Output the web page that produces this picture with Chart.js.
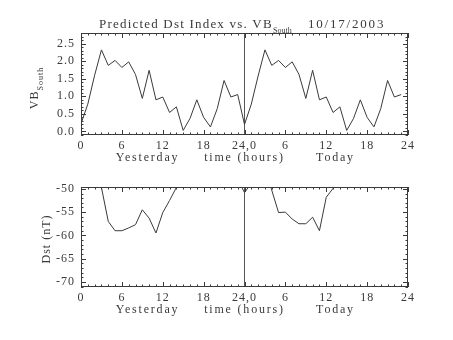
<!DOCTYPE html>
<html>
<head>
<meta charset="utf-8">
<script src="https://cdn.jsdelivr.net/npm/chart.js@4.4.1/dist/chart.umd.min.js"></script>
<style>
  html, body { margin: 0; padding: 0; background: #fff; }
  #wrap { position: relative; width: 453px; height: 340px; }
  #wrap canvas { position: absolute; left: 0; }
</style>
</head>
<body>
<div id="wrap">
  <canvas id="vb-chart" width="453" height="170" style="top:0"></canvas>
  <canvas id="dst-chart" width="453" height="170" style="top:170px"></canvas>
</div>
<script>
// hours 0..23 yesterday, then 24..47 today
var hours = [];
for (var i = 0; i < 48; i++) hours.push(i);

var vbYesterday = [0.22, 0.78, 1.6, 2.32, 1.88, 2.02, 1.82, 1.98, 1.62, 0.94, 1.74, 0.9,
                   0.98, 0.54, 0.7, 0.03, 0.37, 0.9, 0.4, 0.13, 0.65, 1.45, 0.98, 1.05];
var vbToday = [0.2, 0.78, 1.58, 2.32, 1.88, 2.02, 1.82, 1.98, 1.62, 0.94, 1.74, 0.9,
               0.98, 0.54, 0.7, 0.03, 0.37, 0.9, 0.4, 0.13, 0.65, 1.45, 0.98, 1.05];

var dstYesterday = [null, null, -45, -49.7, -57.0, -59.0, -59.0, -58.4, -57.7, -54.5, -56.3, -59.5,
                    -55.1, -52.5, -49.7, -45, null, null, null, null, null, null, null, -48];
var dstToday = [-50.8, -48.8, null, -45, -50.3, -55.1, -55.0, -56.5, -57.5, -57.5, -56.1, -59.0,
                -51.8, -49.9, -46, null, null, null, null, null, null, null, null, null];

var xTicks = [0, 6, 12, 18, 24, 30, 36, 42, 48];
var xTickLabels = ['0', '6', '12', '18', '24,0', '6', '12', '18', '24'];
var vbTicks = [0, 0.5, 1.0, 1.5, 2.0, 2.5];
var dstTicks = [-70, -65, -60, -55, -50];

var FONT = '"Liberation Serif", "DejaVu Serif", serif';
var INK = '#3a3a3a';

function points(a, b) {
  var all = a.concat(b);
  return hours.map(function (h, i) { return { x: h, y: all[i] }; });
}

// IDL style box: frame on all four sides with inward major/minor ticks, plus texts
var idlBox = {
  id: 'idlBox',
  beforeDraw: function (chart) {
    chart.ctx.letterSpacing = '1px';
  },
  afterDraw: function (chart) {
    var o = chart.options.plugins.idlBox;
    var a = chart.chartArea, ctx = chart.ctx;
    var xs = chart.scales.x, ys = chart.scales.y;
    ctx.save();
    ctx.letterSpacing = '0px';
    ctx.strokeStyle = '#3a3a3a';
    ctx.lineWidth = 1;
    ctx.strokeRect(Math.round(a.left) + 0.5, Math.round(a.top) + 0.5,
      Math.round(a.right - a.left) - 1, Math.round(a.bottom - a.top) - 1);

    ctx.beginPath();
    for (var h = 0; h <= 48; h++) {
      var len = h % 6 === 0 ? 5 : 2.5;
      var px = Math.round(xs.getPixelForValue(h)) + 0.5;
      ctx.moveTo(px, a.bottom); ctx.lineTo(px, a.bottom - len);
      ctx.moveTo(px, a.top); ctx.lineTo(px, a.top + len);
    }
    var n0 = Math.ceil(ys.min / o.yMinor - 1e-6), n1 = Math.floor(ys.max / o.yMinor + 1e-6);
    for (var n = n0; n <= n1; n++) {
      var v = n * o.yMinor;
      var major = Math.abs(v / o.yMajor - Math.round(v / o.yMajor)) < 1e-6;
      var l2 = major ? 5 : 2.5;
      var py = Math.round(ys.getPixelForValue(v)) + 0.5;
      ctx.moveTo(a.left, py); ctx.lineTo(a.left + l2, py);
      ctx.moveTo(a.right, py); ctx.lineTo(a.right - l2, py);
    }
    ctx.stroke();

    ctx.fillStyle = INK;
    ctx.textBaseline = 'middle';
    ctx.textAlign = 'center';
    ctx.font = '12px ' + FONT;
    ctx.letterSpacing = '1.8px';
    var cx = xs.getPixelForValue(24);
    var ty = a.bottom + 23;
    ctx.fillText('Yesterday', cx - 97, ty);
    ctx.fillText('time (hours)', cx, ty);
    ctx.fillText('Today', cx + 91, ty);
    ctx.letterSpacing = '0px';

    // rotated y title
    ctx.save();
    ctx.translate(o.yTitleX, (a.top + a.bottom) / 2 + o.yTitleDy);
    ctx.rotate(-Math.PI / 2);
    ctx.textAlign = 'left';
    ctx.textBaseline = 'alphabetic';
    ctx.letterSpacing = '1px';
    ctx.font = '12px ' + FONT;
    var w = ctx.measureText(o.yTitle).width;
    var sw = 0;
    if (o.ySub) {
      ctx.font = '8px ' + FONT;
      sw = ctx.measureText(o.ySub).width;
    }
    var start = -(w + sw) / 2;
    ctx.font = '12px ' + FONT;
    ctx.fillText(o.yTitle, start, 0);
    if (o.ySub) {
      ctx.font = '8px ' + FONT;
      ctx.fillText(o.ySub, start + w, 5);
    }
    ctx.restore();

    if (o.title) {
      ctx.textAlign = 'left';
      ctx.textBaseline = 'alphabetic';
      ctx.font = '13px ' + FONT;
      ctx.letterSpacing = '1.2px';
      ctx.fillText(o.title, 99, 28);
      ctx.letterSpacing = '0px';
      ctx.font = '8px ' + FONT;
      ctx.fillText(o.titleSub, 273, 33);
      ctx.font = '13px ' + FONT;
      ctx.letterSpacing = '1.8px';
      ctx.fillText(o.date, 308, 28);
      ctx.letterSpacing = '0px';
    }
    ctx.restore();
  }
};

function makeChart(id, data, yMin, yMax, yTicks, yFmt, boxOpts, padTop, axisH) {
  return new Chart(document.getElementById(id), {
    type: 'line',
    data: {
      datasets: [{
        data: data,
        borderColor: '#3a3a3a',
        borderWidth: 1,
        pointRadius: 0,
        tension: 0,
        spanGaps: false,
        clip: 0
      }]
    },
    options: {
      responsive: false,
      animation: false,
      devicePixelRatio: 1,
      layout: { padding: { top: padTop, right: 45, left: 0, bottom: 0 } },
      plugins: { legend: { display: false }, tooltip: { enabled: false }, idlBox: boxOpts },
      scales: {
        x: {
          type: 'linear', min: 0, max: 48,
          afterBuildTicks: function (s) { s.ticks = xTicks.map(function (v) { return { value: v }; }); },
          afterFit: function (s) { s.height = axisH; },
          ticks: {
            autoSkip: false, maxRotation: 0, padding: 4, color: INK,
            font: { family: FONT, size: 12 },
            callback: function (v) { return xTickLabels[xTicks.indexOf(v)]; }
          },
          grid: {
            drawTicks: false,
            color: function (c) { return c.tick && c.tick.value === 24 ? '#555' : 'rgba(0,0,0,0)'; }
          },
          border: { display: false }
        },
        y: {
          type: 'linear', min: yMin, max: yMax,
          afterBuildTicks: function (s) { s.ticks = yTicks.map(function (v) { return { value: v }; }); },
          afterFit: function (s) { s.width = 81; },
          ticks: {
            padding: 6, color: INK,
            font: { family: FONT, size: 12 },
            callback: yFmt
          },
          grid: { display: false, drawTicks: false },
          border: { display: false }
        }
      }
    },
    plugins: [idlBox]
  });
}

makeChart('vb-chart', points(vbYesterday, vbToday), -0.1, 2.8, vbTicks,
  function (v) { return v.toFixed(1); },
  { yMinor: 0.1, yMajor: 0.5, yTitle: 'VB', ySub: 'South', yTitleX: 38, yTitleDy: 4,
    title: 'Predicted Dst Index vs. VB', titleSub: 'South', date: '10/17/2003' },
  33, 35);

makeChart('dst-chart', points(dstYesterday, dstToday), -71.1, -49.6, dstTicks,
  function (v) { return String(v); },
  { yMinor: 1, yMajor: 5, yTitle: 'Dst (nT)', yTitleX: 50, yTitleDy: 2 },
  17, 53);
</script>
</body>
</html>
